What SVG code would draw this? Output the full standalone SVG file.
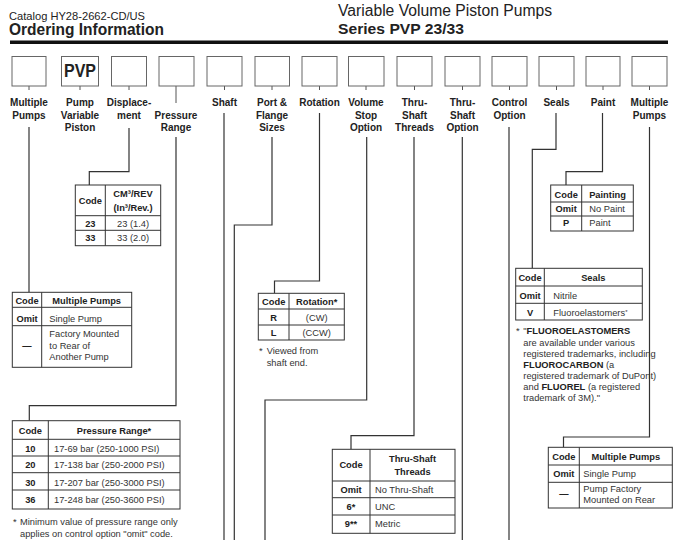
<svg xmlns="http://www.w3.org/2000/svg" width="680" height="540" viewBox="0 0 680 540">
<style>
text{font-family:"Liberation Sans",Arial,sans-serif}
.hd{fill:#222}
.box{fill:#fff;stroke:#666;stroke-width:1}
.tick{stroke:#555;stroke-width:1;fill:none}
.ln{fill:none;stroke:#333;stroke-width:1.2}
.lbl{font-size:10px;font-weight:bold;text-anchor:middle;fill:#222}
.tb{fill:#fff;stroke:#333;stroke-width:1}
.tl{stroke:#333;stroke-width:1}
.th{font-size:9.3px;font-weight:bold;text-anchor:middle;fill:#222}
.tc{font-size:9.3px;font-weight:bold;text-anchor:middle;fill:#222}
.td{font-size:9.3px;fill:#333}
.tdm{font-size:9.3px;fill:#333;text-anchor:middle}
.nt{font-size:9.3px;fill:#333}
.b{font-weight:bold;fill:#222}
</style>
<rect width="680" height="540" fill="#fff"/>
<g id="header">
<text x="9" y="20" class="hd" font-size="11" textLength="136" lengthAdjust="spacingAndGlyphs">Catalog HY28-2662-CD/US</text>
<text x="9" y="35" class="hd" font-size="16" font-weight="bold" textLength="155" lengthAdjust="spacingAndGlyphs">Ordering Information</text>
<text x="338" y="16" class="hd" font-size="16" textLength="214" lengthAdjust="spacingAndGlyphs">Variable Volume Piston Pumps</text>
<text x="338" y="34" class="hd" font-size="15" font-weight="bold" textLength="126" lengthAdjust="spacingAndGlyphs">Series PVP 23/33</text>
<rect x="10" y="40.5" width="658" height="3.5" fill="#111"/>
</g>
<g id="connectors">
<path class="tick" d="M29,86V90M80,86V90M129,86V90M176,86V103M224.5,86V90M272,86V90M319.5,86V90M366,86V90M414.5,86V90M462.5,86V90M509.5,86V90M556.5,86V90M603,86V90M649.5,86V90"/>
<path class="ln" d="M29,127V292.3"/>
<path class="ln" d="M129,128V171.7H89.3V185"/>
<path class="ln" d="M176,137V405.7H29.3V420.7"/>
<path class="ln" d="M224,113V540"/>
<path class="ln" d="M272,137V225H234.3V540"/>
<path class="ln" d="M319.5,113V281H274.5V293.3"/>
<path class="ln" d="M366.7,137V400H265V540"/>
<path class="ln" d="M414,137V435.7H351V449.3"/>
<path class="ln" d="M462.3,137V540"/>
<path class="ln" d="M509,127V540"/>
<path class="ln" d="M556,113V149.3H532.3V268.3"/>
<path class="ln" d="M602.5,113V171.7H566V185"/>
<path class="ln" d="M649.5,127V437H563.5V447.3"/>
</g>
<g id="n-multiple-pumps">
<rect class="box" x="12" y="56.5" width="34" height="29.5"/>
<text class="lbl" x="29" y="106">Multiple</text><text class="lbl" x="29" y="118.5">Pumps</text>
</g>
<g id="n-pvp">
<rect class="box" x="61.5" y="56.5" width="37" height="29.5"/>
<text x="80" y="77" font-size="18" font-weight="bold" text-anchor="middle" fill="#222" textLength="32" lengthAdjust="spacingAndGlyphs">PVP</text>
<text class="lbl" x="80" y="106">Pump</text><text class="lbl" x="80" y="118.5">Variable</text><text class="lbl" x="80" y="131">Piston</text>
</g>
<g id="n-displacement">
<rect class="box" x="111.5" y="56.5" width="35" height="29.5"/>
<text class="lbl" x="129" y="106">Displace-</text><text class="lbl" x="129" y="118.5">ment</text>
</g>
<g id="n-pressure">
<rect class="box" x="159" y="56.5" width="35" height="29.5"/>
<text class="lbl" x="176" y="119">Pressure</text><text class="lbl" x="176" y="131">Range</text>
</g>
<g id="n-shaft">
<rect class="box" x="207" y="56.5" width="35" height="29.5"/>
<text class="lbl" x="224.5" y="106">Shaft</text>
</g>
<g id="n-port">
<rect class="box" x="255" y="56.5" width="34.5" height="29.5"/>
<text class="lbl" x="272" y="106">Port &amp;</text><text class="lbl" x="272" y="118.5">Flange</text><text class="lbl" x="272" y="131">Sizes</text>
</g>
<g id="n-rotation">
<rect class="box" x="302" y="56.5" width="35" height="29.5"/>
<text class="lbl" x="319.5" y="106">Rotation</text>
</g>
<g id="n-volume-stop">
<rect class="box" x="348.5" y="56.5" width="35.5" height="29.5"/>
<text class="lbl" x="366" y="106">Volume</text><text class="lbl" x="366" y="118.5">Stop</text><text class="lbl" x="366" y="131">Option</text>
</g>
<g id="n-thru-threads">
<rect class="box" x="397" y="56.5" width="35" height="29.5"/>
<text class="lbl" x="414.5" y="106">Thru-</text><text class="lbl" x="414.5" y="118.5">Shaft</text><text class="lbl" x="414.5" y="131">Threads</text>
</g>
<g id="n-thru-option">
<rect class="box" x="445" y="56.5" width="35" height="29.5"/>
<text class="lbl" x="462.5" y="106">Thru-</text><text class="lbl" x="462.5" y="118.5">Shaft</text><text class="lbl" x="462.5" y="131">Option</text>
</g>
<g id="n-control">
<rect class="box" x="492" y="56.5" width="35" height="29.5"/>
<text class="lbl" x="509.5" y="106">Control</text><text class="lbl" x="509.5" y="118.5">Option</text>
</g>
<g id="n-seals">
<rect class="box" x="539" y="56.5" width="35" height="29.5"/>
<text class="lbl" x="556.5" y="106">Seals</text>
</g>
<g id="n-paint">
<rect class="box" x="586" y="56.5" width="34" height="29.5"/>
<text class="lbl" x="603" y="106">Paint</text>
</g>
<g id="n-multiple-pumps-2">
<rect class="box" x="632" y="56.5" width="35" height="29.5"/>
<text class="lbl" x="649.5" y="106">Multiple</text><text class="lbl" x="649.5" y="118.5">Pumps</text>
</g>
<g id="t-displacement">
<rect class="tb" x="75.3" y="185" width="85.4" height="60.7"/>
<path class="tl" d="M105.3,185V245.7M75.3,215.7H160.7M75.3,230.3H160.7"/>
<text class="th" x="90.3" y="204">Code</text>
<text class="th" x="133" y="196.5">CM³/REV</text>
<text class="th" x="133" y="211">(In³/Rev.)</text>
<text class="tc" x="90.3" y="226.5">23</text><text class="tdm" x="133" y="226.5">23 (1.4)</text>
<text class="tc" x="90.3" y="241.3">33</text><text class="tdm" x="133" y="241.3">33 (2.0)</text>
</g>
<g id="t-multiple-pumps">
<rect class="tb" x="12.3" y="292.3" width="119.4" height="75"/>
<path class="tl" d="M41.7,292.3V367.3M12.3,307.3H131.7M12.3,325.7H131.7"/>
<text class="th" x="27" y="304">Code</text><text class="th" x="86.7" y="304">Multiple Pumps</text>
<text class="tc" x="27" y="321.7">Omit</text><text class="td" x="49.3" y="321.7">Single Pump</text>
<text class="tc" x="27" y="349">—</text>
<text class="td" x="49.3" y="337">Factory Mounted</text>
<text class="td" x="49.3" y="348.5">to Rear of</text>
<text class="td" x="49.3" y="360">Another Pump</text>
</g>
<g id="t-pressure">
<rect class="tb" x="12.3" y="420.7" width="167.7" height="88.3"/>
<path class="tl" d="M48.3,420.7V509M12.3,439.3H180M12.3,456H180M12.3,472.7H180M12.3,490H180"/>
<text class="th" x="30.3" y="433.5">Code</text><text class="th" x="114" y="433.5">Pressure Range*</text>
<text class="tc" x="30.3" y="451.5">10</text><text class="td" x="54" y="451.5">17-69 bar (250-1000 PSI)</text>
<text class="tc" x="30.3" y="468.3">20</text><text class="td" x="54" y="468.3">17-138 bar (250-2000 PSI)</text>
<text class="tc" x="30.3" y="485.5">30</text><text class="td" x="54" y="485.5">17-207 bar (250-3000 PSI)</text>
<text class="tc" x="30.3" y="502.5">36</text><text class="td" x="54" y="502.5">17-248 bar (250-3600 PSI)</text>
<text class="nt" x="13" y="525">*</text>
<text class="nt" x="20" y="525">Minimum value of pressure range only</text>
<text class="nt" x="20" y="537">applies on control option "omit" code.</text>
</g>
<g id="t-rotation">
<rect class="tb" x="258.3" y="293.3" width="86" height="46.7"/>
<path class="tl" d="M289,293.3V340M258.3,309H344.3M258.3,325H344.3"/>
<text class="th" x="273.7" y="305">Code</text><text class="th" x="316.7" y="305">Rotation*</text>
<text class="tc" x="273.7" y="320.6">R</text><text class="tdm" x="316.7" y="320.6">(CW)</text>
<text class="tc" x="273.7" y="336">L</text><text class="tdm" x="316.7" y="336">(CCW)</text>
<text class="nt" x="259" y="354">*</text>
<text class="nt" x="266.7" y="354">Viewed from</text>
<text class="nt" x="266.7" y="366">shaft end.</text>
</g>
<g id="t-paint">
<rect class="tb" x="550.7" y="185" width="82.6" height="46"/>
<path class="tl" d="M581.7,185V231M550.7,202H633.3M550.7,216H633.3"/>
<text class="th" x="566.2" y="197.5">Code</text><text class="th" x="607.5" y="197.5">Painting</text>
<text class="tc" x="566.2" y="212.3">Omit</text><text class="td" x="589.3" y="212.3">No Paint</text>
<text class="tc" x="566.2" y="226">P</text><text class="td" x="589.3" y="226">Paint</text>
</g>
<g id="t-seals">
<rect class="tb" x="515.7" y="268.3" width="126.6" height="51.7"/>
<path class="tl" d="M544.3,268.3V320M515.7,286H642.3M515.7,303.3H642.3"/>
<text class="th" x="530" y="281">Code</text><text class="th" x="593.3" y="281">Seals</text>
<text class="tc" x="530" y="299">Omit</text><text class="td" x="553.3" y="299">Nitrile</text>
<text class="tc" x="530" y="316">V</text><text class="td" x="553.3" y="316">Fluoroelastomers<tspan font-size="6" dy="-2">*</tspan></text>
<text class="nt" x="516" y="334">*</text>
<text class="nt" x="523.3" y="334">"<tspan class="b">FLUOROELASTOMERS</tspan></text>
<text class="nt" x="523.3" y="345.5">are available under various</text>
<text class="nt" x="523.3" y="356.5">registered trademarks, including</text>
<text class="nt" x="523.3" y="367.5"><tspan class="b">FLUOROCARBON</tspan> (a</text>
<text class="nt" x="523.3" y="378.5">registered trademark of DuPont)</text>
<text class="nt" x="523.3" y="389.5">and <tspan class="b">FLUOREL</tspan> (a registered</text>
<text class="nt" x="523.3" y="400.5">trademark of 3M)."</text>
</g>
<g id="t-thru-threads">
<rect class="tb" x="332.3" y="449.3" width="122.7" height="84"/>
<path class="tl" d="M370,449.3V533.3M332.3,481H455M332.3,497.7H455M332.3,515H455"/>
<text class="th" x="351" y="467.6">Code</text>
<text class="th" x="412.5" y="461.6">Thru-Shaft</text><text class="th" x="412.5" y="475">Threads</text>
<text class="tc" x="351" y="492.6">Omit</text><text class="td" x="375" y="492.6">No Thru-Shaft</text>
<text class="tc" x="351" y="510">6*</text><text class="td" x="375" y="510">UNC</text>
<text class="tc" x="351" y="527.3">9**</text><text class="td" x="375" y="527.3">Metric</text>
</g>
<g id="t-multiple-pumps-2">
<rect class="tb" x="548.3" y="447.3" width="124" height="60.7"/>
<path class="tl" d="M579.3,447.3V508M548.3,465H672.3M548.3,482.3H672.3"/>
<text class="th" x="563.8" y="459.5">Code</text><text class="th" x="625.8" y="459.5">Multiple Pumps</text>
<text class="tc" x="563.8" y="477">Omit</text><text class="td" x="583.3" y="477">Single Pump</text>
<text class="tc" x="563.8" y="497">—</text>
<text class="td" x="583.3" y="491.5">Pump Factory</text>
<text class="td" x="583.3" y="502.5">Mounted on Rear</text>
</g>
</svg>
